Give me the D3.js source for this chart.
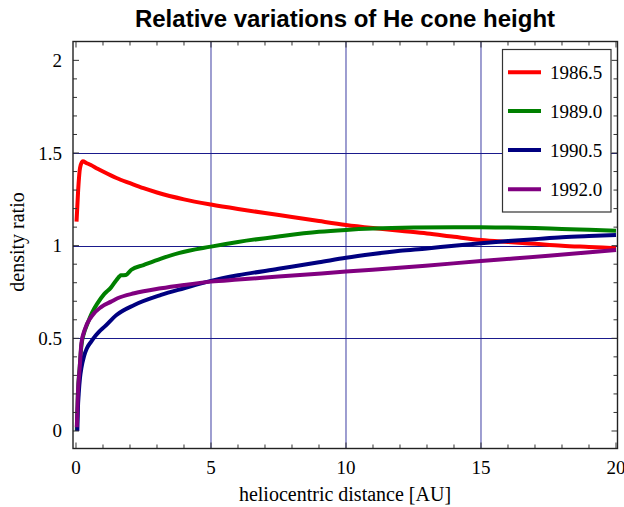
<!DOCTYPE html>
<html>
<head>
<meta charset="utf-8">
<script src="https://cdn.jsdelivr.net/npm/d3@7"></script>
<style>
  html, body { margin: 0; padding: 0; background: #fff; }
  svg { display: block; }
</style>
</head>
<body>
<svg id="chart" width="624" height="507"></svg>
<script>
// Density ratio vs heliocentric distance (AU), one array of [distance, ratio] per epoch
const series1986 = [
  [0.02, 1.13], [0.08, 1.30], [0.15, 1.42], [0.25, 1.455], [0.4, 1.445], [0.55, 1.435],
  [0.8, 1.415], [1.0, 1.40], [1.5, 1.365], [2.0, 1.337], [2.5, 1.31], [3.0, 1.287],
  [4.0, 1.25], [5.0, 1.222], [6.0, 1.198], [7.0, 1.176], [8.0, 1.155], [9.0, 1.133],
  [10.0, 1.112], [11.0, 1.095], [12.0, 1.08], [13.0, 1.066], [14.0, 1.048], [15.0, 1.031],
  [16.0, 1.02], [17.0, 1.01], [18.0, 1.0], [19.0, 0.993], [20.0, 0.986]
];
const series1989 = [
  [0.03, 0.0], [0.07, 0.2], [0.14, 0.35], [0.2, 0.46], [0.3, 0.53], [0.4, 0.57],
  [0.6, 0.64], [0.8, 0.69], [1.05, 0.74], [1.3, 0.775], [1.5, 0.815], [1.67, 0.84],
  [1.85, 0.842], [2.05, 0.87], [2.5, 0.895], [3.15, 0.93], [3.8, 0.96], [5.0, 0.995],
  [6.0, 1.02], [7.5, 1.05], [9.0, 1.075], [10.0, 1.085], [11.0, 1.092], [12.5, 1.098],
  [14.0, 1.10], [15.0, 1.10], [16.0, 1.098], [17.0, 1.095], [18.0, 1.09], [19.0, 1.086],
  [20.0, 1.081]
];
const series1990 = [
  [0.05, 0.0], [0.07, 0.12], [0.1, 0.2], [0.15, 0.29], [0.2, 0.34], [0.3, 0.405],
  [0.4, 0.445], [0.55, 0.48], [0.7, 0.51], [0.85, 0.535], [1.06, 0.563], [1.5, 0.626],
  [2.16, 0.68], [3.15, 0.734], [4.0, 0.77], [5.0, 0.81], [6.0, 0.84], [7.5, 0.875],
  [9.0, 0.91], [10.0, 0.935], [11.0, 0.955], [12.0, 0.972], [13.0, 0.985], [14.0, 1.0],
  [15.0, 1.013], [16.0, 1.025], [17.0, 1.035], [18.0, 1.045], [19.0, 1.052], [20.0, 1.058]
];
const series1992 = [
  [0.03, 0.02], [0.07, 0.2], [0.14, 0.347], [0.2, 0.473], [0.32, 0.545], [0.57, 0.617],
  [0.94, 0.67], [1.3, 0.698], [1.54, 0.716], [2.16, 0.743], [3.15, 0.77], [4.0, 0.788],
  [5.0, 0.806], [6.0, 0.817], [7.5, 0.833], [10.0, 0.86], [12.95, 0.892], [15.0, 0.917],
  [17.5, 0.945], [20.0, 0.977]
];

const seriesNames = ["1986.5", "1989.0", "1990.5", "1992.0"];
const seriesColors = ["#ff0000", "#008000", "#000080", "#800080"];
const seriesData = [series1986, series1989, series1990, series1992];

const xTicks = [0, 5, 10, 15, 20];
const yTicks = [0, 0.5, 1, 1.5, 2];
const xGrid = [5, 10, 15];
const yGrid = [0.5, 1, 1.5];

const svg = d3.select("#chart");
const frame = { left: 73, right: 617.5, top: 41.5, bottom: 448.5 };

const x = d3.scaleLinear().domain([-0.111, 20.056]).range([frame.left, frame.right]);
const y = d3.scaleLinear().domain([-0.0945, 2.1017]).range([frame.bottom, frame.top]);

// grid lines
svg.append("g").selectAll("line").data(xGrid).join("line")
  .attr("x1", d => x(d)).attr("x2", d => x(d))
  .attr("y1", frame.top).attr("y2", frame.bottom)
  .attr("stroke", "#6a6ab8").attr("stroke-width", 1.3);
svg.append("g").selectAll("line").data(yGrid).join("line")
  .attr("x1", frame.left).attr("x2", frame.right)
  .attr("y1", d => Math.round(y(d)) + 0.5).attr("y2", d => Math.round(y(d)) + 0.5)
  .attr("stroke", "#1a1a8c").attr("stroke-width", 1);

// curves
const clipId = "plot-clip";
svg.append("clipPath").attr("id", clipId).append("rect")
  .attr("x", frame.left).attr("y", frame.top)
  .attr("width", frame.right - frame.left).attr("height", frame.bottom - frame.top);

const line = d3.line().x(d => x(d[0])).y(d => y(d[1])).curve(d3.curveMonotoneX);
svg.append("g").attr("clip-path", `url(#${clipId})`)
  .selectAll("path").data(seriesData).join("path")
  .attr("d", line)
  .attr("fill", "none")
  .attr("stroke", (d, i) => seriesColors[i])
  .attr("stroke-width", 4)
  .attr("stroke-linejoin", "round");

// frame with inward ticks on all four sides
const tickColor = "#333";
const axisG = svg.append("g");
const xMinor = d3.range(0, 20.001, 1);
const yMinor = d3.range(0, 2.0001, 0.1);
function isMajor(v, step) { return Math.abs(v / step - Math.round(v / step)) < 1e-6; }

xMinor.forEach(v => {
  const len = isMajor(v, 5) ? 6 : 4;
  axisG.append("line").attr("x1", x(v)).attr("x2", x(v))
    .attr("y1", frame.bottom).attr("y2", frame.bottom - len)
    .attr("stroke", tickColor).attr("stroke-width", 1);
  axisG.append("line").attr("x1", x(v)).attr("x2", x(v))
    .attr("y1", frame.top).attr("y2", frame.top + len)
    .attr("stroke", tickColor).attr("stroke-width", 1);
});
yMinor.forEach(v => {
  const len = isMajor(v, 0.5) ? 6 : 4;
  axisG.append("line").attr("x1", frame.left).attr("x2", frame.left + len)
    .attr("y1", y(v)).attr("y2", y(v))
    .attr("stroke", tickColor).attr("stroke-width", 1);
  axisG.append("line").attr("x1", frame.right).attr("x2", frame.right - len)
    .attr("y1", y(v)).attr("y2", y(v))
    .attr("stroke", tickColor).attr("stroke-width", 1);
});
axisG.append("rect")
  .attr("x", frame.left).attr("y", frame.top)
  .attr("width", frame.right - frame.left).attr("height", frame.bottom - frame.top)
  .attr("fill", "none").attr("stroke", "#222").attr("stroke-width", 1.4);

// tick labels
const serif = "'Liberation Serif', 'Times New Roman', serif";
svg.append("g").selectAll("text").data(xTicks).join("text")
  .attr("x", d => x(d)).attr("y", 474)
  .attr("text-anchor", "middle")
  .attr("font-family", serif).attr("font-size", 19)
  .text(d => d3.format("d")(d));
svg.append("g").selectAll("text").data(yTicks).join("text")
  .attr("x", 62).attr("y", d => y(d) + 6.5)
  .attr("text-anchor", "end")
  .attr("font-family", serif).attr("font-size", 19)
  .text(d => d3.format("")(d));

// axis titles
svg.append("text")
  .attr("x", 345).attr("y", 501)
  .attr("text-anchor", "middle")
  .attr("font-family", serif).attr("font-size", 20)
  .text("heliocentric distance [AU]");
svg.append("text")
  .attr("transform", `translate(24, 242) rotate(-90)`)
  .attr("text-anchor", "middle")
  .attr("font-family", serif).attr("font-size", 20)
  .text("density ratio");

// title
svg.append("text")
  .attr("x", 345).attr("y", 27)
  .attr("text-anchor", "middle")
  .attr("font-family", "'Liberation Sans', Arial, sans-serif")
  .attr("font-weight", "bold").attr("font-size", 24)
  .text("Relative variations of He cone height");

// legend
const legend = svg.append("g");
legend.append("rect")
  .attr("x", 502.5).attr("y", 49.5).attr("width", 108.5).attr("height", 162.5)
  .attr("fill", "#fff").attr("stroke", "#333").attr("stroke-width", 1.2);
const legendRows = [72.3, 111, 150, 189.3];
seriesNames.forEach((name, i) => {
  legend.append("line")
    .attr("x1", 508).attr("x2", 541)
    .attr("y1", legendRows[i]).attr("y2", legendRows[i])
    .attr("stroke", seriesColors[i]).attr("stroke-width", 4);
  legend.append("text")
    .attr("x", 550).attr("y", legendRows[i] + 6.5)
    .attr("font-family", serif).attr("font-size", 19)
    .text(name);
});
</script>
</body>
</html>
